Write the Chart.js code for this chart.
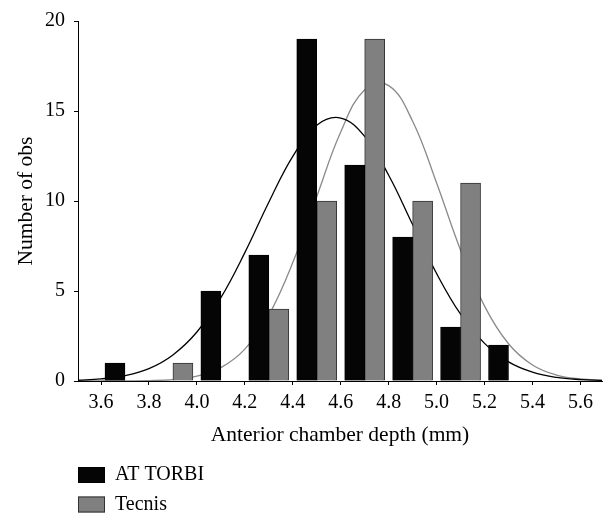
<!DOCTYPE html>
<html>
<head>
<meta charset="utf-8">
<script src="https://cdn.jsdelivr.net/npm/chart.js@4.4.1/dist/chart.umd.min.js"></script>
<style>
  body { margin: 0; background: #fff; }
  canvas { display: block; }
</style>
</head>
<body>
<canvas id="myChart" width="607" height="516"></canvas>
<script>
// histogram bins (centre of each 0.2 mm class)
const bins = [3.7, 3.9, 4.1, 4.3, 4.5, 4.7, 4.9, 5.1, 5.3];
const atTorbi = [1, 0, 5, 7, 19, 12, 8, 3, 2];
const tecnis = [0, 1, 0, 4, 10, 19, 10, 11, 0];

// fitted normal curves
const curveX = [3.5, 3.6, 3.7, 3.8, 3.9, 4.0, 4.1, 4.2, 4.3, 4.4, 4.5, 4.6,
                4.7, 4.8, 4.9, 5.0, 5.1, 5.2, 5.3, 5.4, 5.5, 5.6, 5.7];
const atTorbiFit = [0.04, 0.12, 0.30, 0.69, 1.45, 2.72, 4.63, 7.13, 9.93, 12.48, 14.21, 14.61,
                    13.59, 11.43, 8.69, 5.97, 3.71, 2.09, 1.06, 0.49, 0.20, 0.08, 0.03];
const tecnisFit = [0.00, 0.00, 0.01, 0.02, 0.08, 0.27, 0.74, 1.77, 3.66, 6.58, 10.24, 13.83,
                   16.18, 16.41, 14.43, 11.00, 7.27, 4.16, 2.07, 0.89, 0.33, 0.11, 0.03];

const xTicks = [3.6, 3.8, 4.0, 4.2, 4.4, 4.6, 4.8, 5.0, 5.2, 5.4, 5.6];
const yTicks = [0, 5, 10, 15, 20];

const family = '"Liberation Serif", "Times New Roman", serif';
const font = { family: family, size: 20 };
const titleFont = { family: family, size: 21.5 };

// legend stacked under the axis, like the original
const legendBoxes = {
    id: 'legendBoxes',
    afterDraw(chart) {
        const ctx = chart.ctx;
        const bars = chart.data.datasets.filter(d => d.type === 'bar');
        ctx.save();
        bars.forEach((d, i) => {
            const y = 467 + i * 29.5;
            ctx.fillStyle = d.backgroundColor;
            ctx.fillRect(78, y, 27, 16);
            ctx.strokeStyle = d.borderColor;
            ctx.lineWidth = 1;
            ctx.strokeRect(78.5, y + 0.5, 26, 15);
            ctx.fillStyle = '#000';
            ctx.font = font.size + 'px ' + family;
            ctx.textBaseline = 'middle';
            ctx.fillText(d.label, 115, y + 8);
        });
        ctx.restore();
    }
};

let chart = document.getElementById('myChart').getContext('2d');
let myChart = new Chart(chart, {
    type: 'bar',
    data: {
        datasets: [{
            type: 'bar',
            label: 'AT TORBI',
            data: bins.map((b, i) => ({ x: b, y: atTorbi[i] })),
            backgroundColor: '#050505',
            borderColor: '#000',
            borderWidth: 1,
            barThickness: 20,
            order: 0
        }, {
            type: 'bar',
            label: 'Tecnis',
            data: bins.map((b, i) => ({ x: b, y: tecnis[i] })),
            backgroundColor: '#808080',
            borderColor: '#333',
            borderWidth: 1,
            barThickness: 20,
            order: 0
        }, {
            type: 'line',
            label: 'AT TORBI fit',
            data: curveX.map((x, i) => ({ x: x, y: atTorbiFit[i] })),
            borderColor: '#000',
            borderWidth: 1.3,
            pointRadius: 0,
            tension: 0.4,
            fill: false,
            order: 1
        }, {
            type: 'line',
            label: 'Tecnis fit',
            data: curveX.map((x, i) => ({ x: x, y: tecnisFit[i] })),
            borderColor: '#8a8a8a',
            borderWidth: 1.3,
            pointRadius: 0,
            tension: 0.4,
            fill: false,
            order: 1
        }]
    },
    options: {
        responsive: false,
        animation: false,
        devicePixelRatio: 1,
        layout: { padding: { top: 15, right: 5, bottom: 68, left: 0 } },
        plugins: { legend: { display: false }, tooltip: { enabled: false } },
        scales: {
            x: {
                type: 'linear',
                min: 3.504,
                max: 5.69,
                offset: false,
                afterBuildTicks: s => { s.ticks = xTicks.map(v => ({ value: v })); },
                afterFit: s => { s.height = 67; },
                ticks: { font: font, color: '#000', padding: 6, maxRotation: 0,
                         callback: v => v.toFixed(1) },
                grid: { offset: false, drawOnChartArea: false, tickLength: 4, tickColor: '#000' },
                border: { color: '#000', width: 1 },
                title: { display: true, text: 'Anterior chamber depth (mm)', font: titleFont,
                         color: '#000', padding: { top: 0, bottom: 0 } }
            },
            y: {
                min: 0,
                max: 20,
                afterBuildTicks: s => { s.ticks = yTicks.map(v => ({ value: v })); },
                afterFit: s => { s.width = 78; },
                ticks: { font: font, color: '#000', padding: 9 },
                grid: { drawOnChartArea: false, tickLength: 4, tickColor: '#000' },
                border: { color: '#000', width: 1 },
                title: { display: true, text: 'Number of obs', font: titleFont,
                         color: '#000', padding: { top: 13, bottom: 0 } }
            }
        }
    },
    plugins: [legendBoxes]
});
</script>
</body>
</html>
